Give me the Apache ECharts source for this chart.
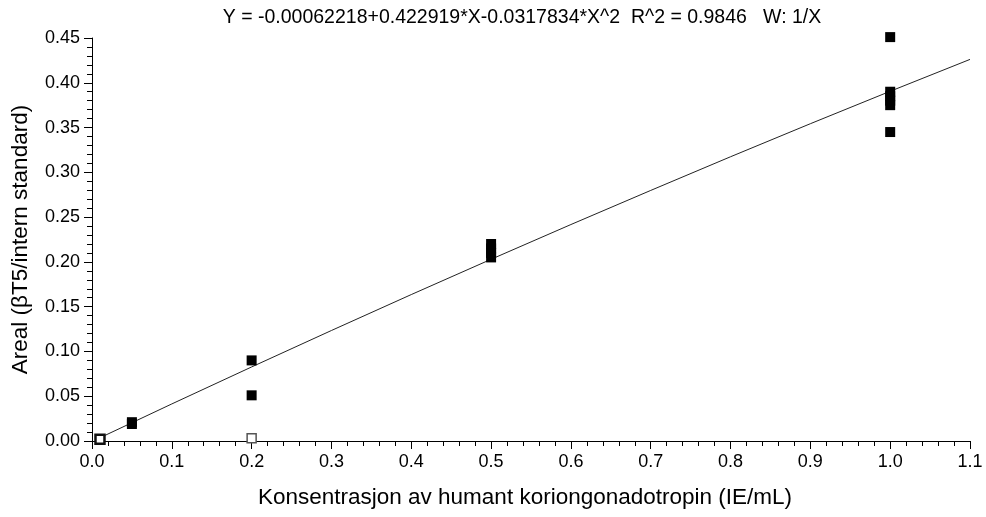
<!DOCTYPE html>
<html>
<head>
<meta charset="utf-8">
<script src="https://cdn.jsdelivr.net/npm/echarts@6/dist/echarts.min.js"></script>
<style>
  html, body { margin: 0; padding: 0; background: #fff; }
  #chart { width: 986px; height: 517px; }
</style>
</head>
<body>
<div id="chart"></div>
<script>
// Calibration standards: concentration (IE/mL) and measured area ratio
const stdConc = [0.05, 0.05, 0.2, 0.2, 0.5, 0.5, 0.5, 0.5, 1.0, 1.0, 1.0, 1.0, 1.0, 1.0];
const stdArea = [0.019, 0.021, 0.090, 0.051, 0.205, 0.210, 0.215, 0.220, 0.451, 0.390, 0.385, 0.380, 0.375, 0.345];

// Excluded points (open markers)
const exclConc = [0.01, 0.2];
const exclArea = [0.002, 0.003];

// Fitted calibration curve, sampled along the concentration range
const fitConc = [0.01, 0.1, 0.2, 0.3, 0.4, 0.5, 0.6, 0.7, 0.8, 0.9, 1.0, 1.1];
const fitArea = [0.0036, 0.0414, 0.0827, 0.1234, 0.1635, 0.2029, 0.2417, 0.2798, 0.3174, 0.3543, 0.3905, 0.4261];

const fitTitle = 'Y = -0.00062218+0.422919*X-0.0317834*X^2  R^2 = 0.9846   W: 1/X';
const xName = 'Konsentrasjon av humant koriongonadotropin (IE/mL)';
const yName = 'Areal (\u03B2T5/intern standard)';

const zip = (a, b) => a.map((v, i) => [v, b[i]]);
const font = 'Liberation Sans, Arial, sans-serif';

// open markers: the low standard is drawn with a heavier outline
const openStyles = [
  { color: '#fff', borderColor: '#111', borderWidth: 2.5 },
  { color: '#fff', borderColor: '#555', borderWidth: 1.5 }
];
const openData = zip(exclConc, exclArea).map((p, i) => ({ value: p, itemStyle: openStyles[i] }));

const chart = echarts.init(document.getElementById('chart'));
chart.setOption({
  animation: false,
  backgroundColor: '#fff',
  title: {
    text: fitTitle,
    left: 517,
    top: 3,
    textAlign: 'center',
    textStyle: { fontFamily: font, fontSize: 19.5, fontWeight: 'normal', color: '#000' }
  },
  grid: { left: 92, right: 16, top: 38, bottom: 76, outerBoundsMode: 'none' },
  xAxis: {
    type: 'value',
    min: 0, max: 1.1, interval: 0.1,
    name: xName,
    nameLocation: 'middle',
    nameGap: 45,
    nameTextStyle: { fontFamily: font, fontSize: 22.5, color: '#000', padding: [0, 12, 0, 0] },
    axisLine: { show: true, onZero: false, lineStyle: { color: '#000', width: 1 } },
    axisTick: { show: true, inside: false, length: 8, lineStyle: { color: '#000' } },
    minorTick: { show: true, splitNumber: 5, length: 5, lineStyle: { color: '#000' } },
    splitLine: { show: false },
    axisLabel: {
      fontFamily: font, fontSize: 18, color: '#000', margin: 12,
      formatter: v => v.toFixed(1)
    }
  },
  yAxis: {
    type: 'value',
    min: 0, max: 0.45, interval: 0.05,
    name: yName,
    nameLocation: 'middle',
    nameGap: 60,
    nameTextStyle: { fontFamily: font, fontSize: 22.5, color: '#000' },
    axisLine: { show: true, onZero: false, lineStyle: { color: '#000', width: 1 } },
    axisTick: { show: true, inside: false, length: 8, lineStyle: { color: '#000' } },
    minorTick: { show: true, splitNumber: 5, length: 5, lineStyle: { color: '#000' } },
    splitLine: { show: false },
    axisLabel: {
      fontFamily: font, fontSize: 18, color: '#000', margin: 12,
      formatter: v => v.toFixed(2)
    }
  },
  series: [
    {
      type: 'line',
      data: zip(fitConc, fitArea),
      showSymbol: false,
      symbol: 'none',
      smooth: false,
      lineStyle: { color: '#222', width: 1 },
      z: 2
    },
    {
      type: 'scatter',
      data: zip(stdConc, stdArea),
      symbol: 'rect',
      symbolSize: 10,
      clip: false,
      itemStyle: { color: '#000', opacity: 1 },
      z: 3
    },
    {
      type: 'scatter',
      data: openData,
      symbol: 'rect',
      symbolSize: 9,
      clip: false,
      itemStyle: { opacity: 1 },
      z: 3
    }
  ]
});
</script>
</body>
</html>
